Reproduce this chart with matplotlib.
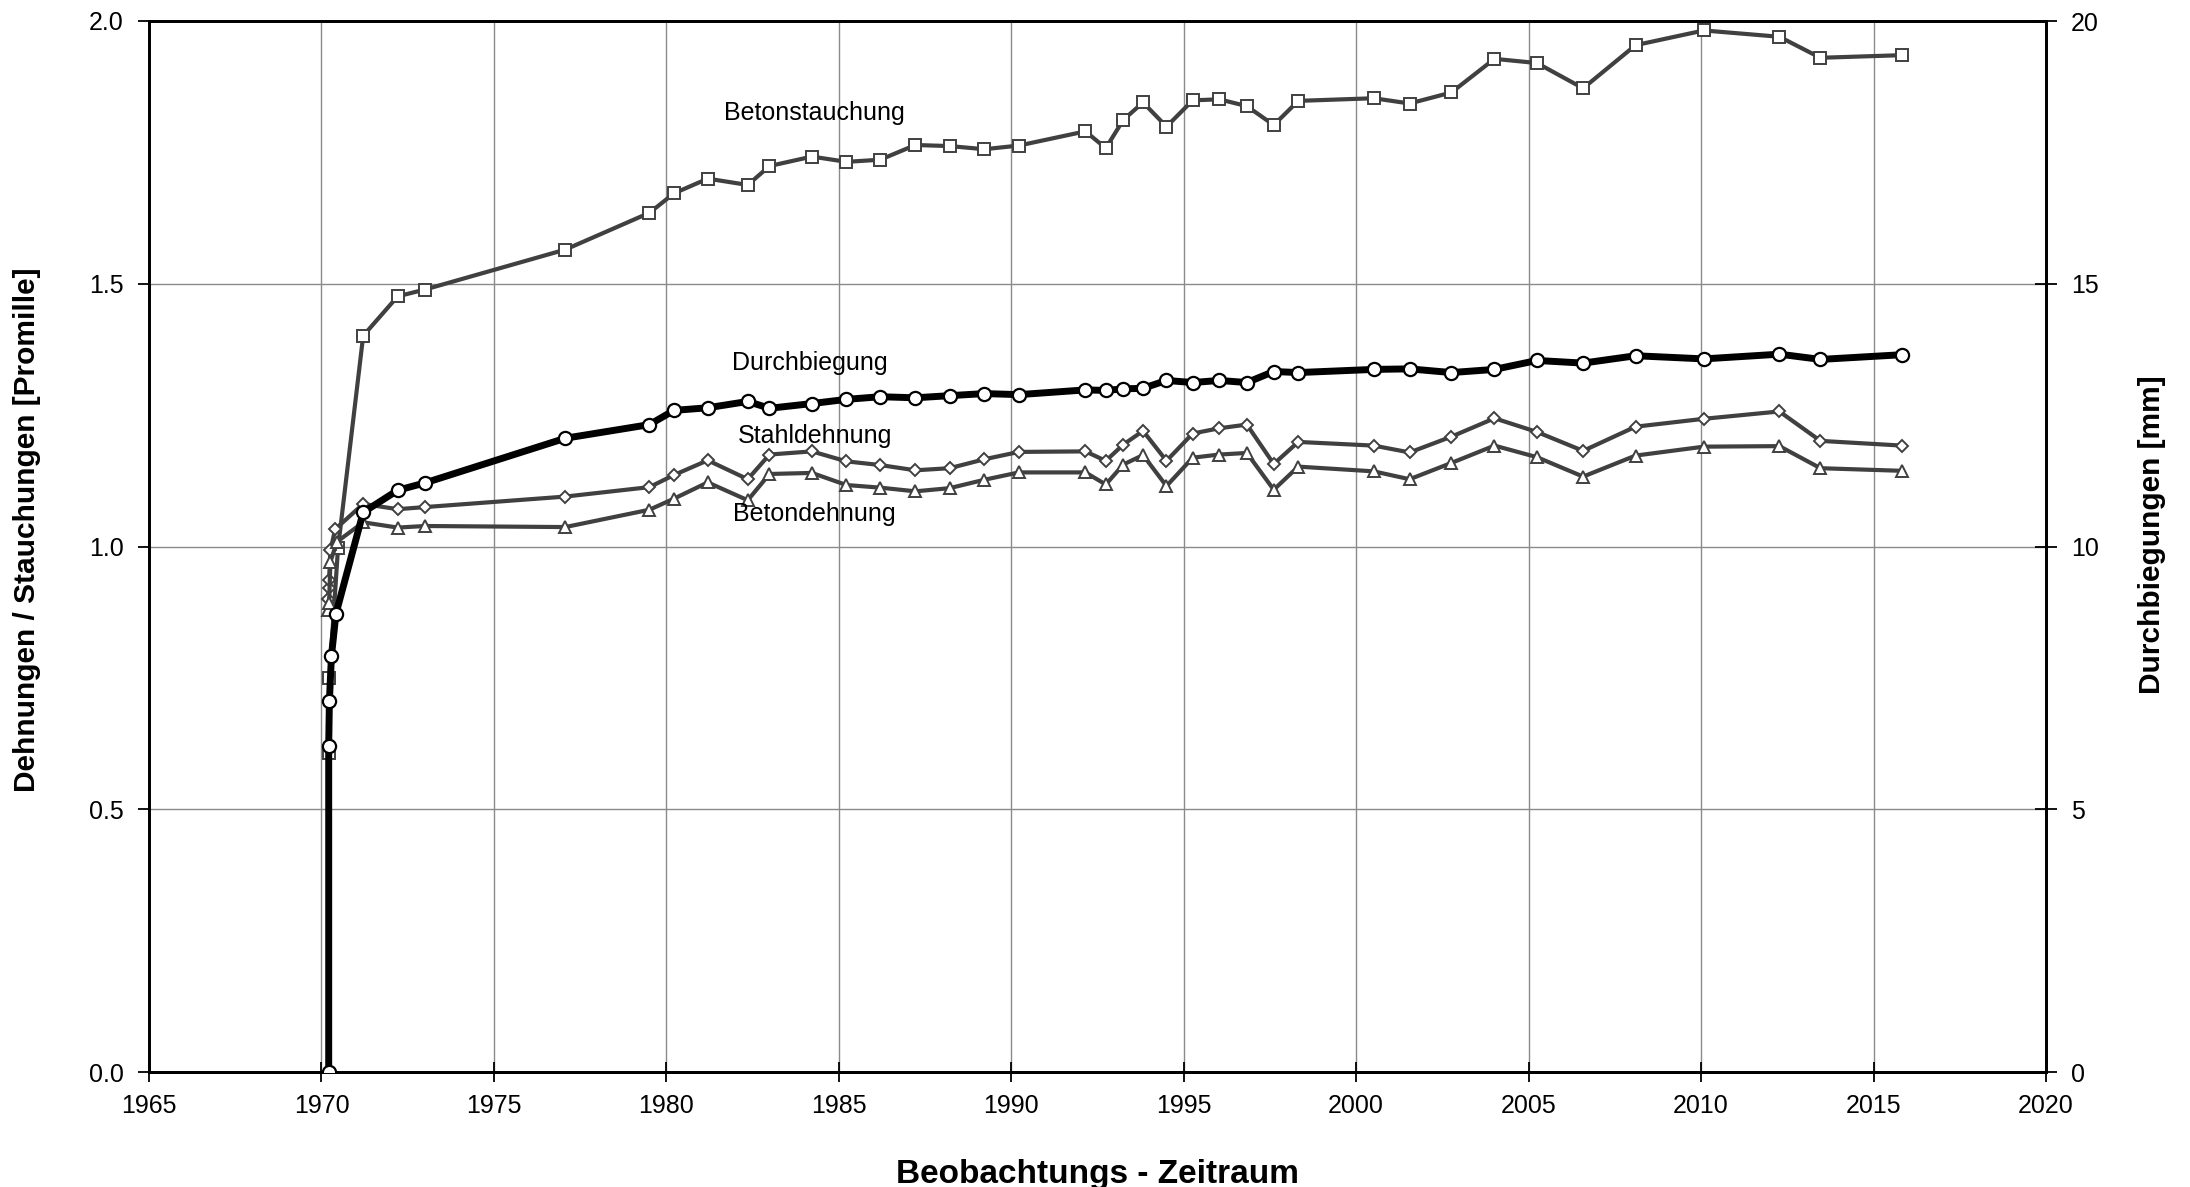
import matplotlib
matplotlib.use("Agg")
import matplotlib.pyplot as plt

plt.rcParams['font.family'] = ['Liberation Sans', 'DejaVu Sans']

# ---- data ----
years = [1971.21, 1972.21, 1973.00, 1977.07, 1979.51, 1980.22, 1981.20, 1982.36, 1982.99,
         1984.22, 1985.22, 1986.20, 1987.22, 1988.21, 1989.22, 1990.22, 1992.15, 1992.74,
         1993.25, 1993.82, 1994.50, 1995.26, 1996.03, 1996.83, 1997.61, 1998.32, 2000.51,
         2001.55, 2002.76, 2004.01, 2005.24, 2006.58, 2008.10, 2010.08, 2012.27, 2013.46,
         2015.83]

betonstauchung = [1.401, 1.476, 1.489, 1.565, 1.635, 1.672, 1.700, 1.688, 1.724, 1.742,
                  1.732, 1.736, 1.764, 1.762, 1.756, 1.763, 1.790, 1.758, 1.812, 1.845,
                  1.799, 1.849, 1.851, 1.838, 1.802, 1.848, 1.853, 1.843, 1.864, 1.928,
                  1.920, 1.872, 1.954, 1.982, 1.970, 1.930, 1.935]
durchbiegung_mm = [10.65, 11.07, 11.21, 12.06, 12.32, 12.59, 12.64, 12.76, 12.63, 12.72,
                   12.80, 12.85, 12.83, 12.87, 12.91, 12.89, 12.98, 12.97, 13.00, 13.01,
                   13.16, 13.12, 13.16, 13.12, 13.33, 13.31, 13.37, 13.38, 13.31, 13.37,
                   13.54, 13.49, 13.63, 13.57, 13.66, 13.56, 13.65]
stahldehnung = [1.081, 1.071, 1.075, 1.095, 1.113, 1.136, 1.164, 1.128, 1.175, 1.181,
                1.162, 1.155, 1.145, 1.149, 1.166, 1.180, 1.181, 1.163, 1.194, 1.220,
                1.163, 1.215, 1.225, 1.232, 1.157, 1.199, 1.192, 1.179, 1.209, 1.244,
                1.218, 1.182, 1.228, 1.243, 1.257, 1.201, 1.192]
betondehnung = [1.046, 1.036, 1.039, 1.037, 1.070, 1.091, 1.122, 1.088, 1.138, 1.140,
                1.117, 1.112, 1.105, 1.111, 1.127, 1.141, 1.141, 1.118, 1.156, 1.174,
                1.115, 1.169, 1.175, 1.178, 1.108, 1.152, 1.143, 1.128, 1.159, 1.192,
                1.170, 1.133, 1.173, 1.190, 1.191, 1.149, 1.144]

# first readings (1970, loading phase)
bs_early_years = [1970.21, 1970.23, 1970.48]
bs_early = [0.607, 0.749, 0.997]
db_early_years = [1970.21, 1970.21, 1970.23, 1970.29, 1970.42]
db_early_mm = [0.0, 6.21, 7.06, 7.92, 8.72]
sd_early_years = [1970.20, 1970.21, 1970.22, 1970.26, 1970.40]
sd_early = [0.901, 0.921, 0.936, 0.993, 1.033]
bd_early_years = [1970.20, 1970.22, 1970.26, 1970.45]
bd_early = [0.879, 0.892, 0.971, 1.009]

x_ticks = [1965, 1970, 1975, 1980, 1985, 1990, 1995, 2000, 2005, 2010, 2015, 2020]
y_ticks = [0.0, 0.5, 1.0, 1.5, 2.0]
y2_ticks = [0, 5, 10, 15, 20]

labels = ["Betonstauchung", "Durchbiegung", "Stahldehnung", "Betondehnung"]
label_pos = [(1984.3, 1.824), (1984.15, 1.349), (1984.3, 1.210), (1984.3, 1.062)]

# ---- figure ----
W, H = 2190, 1187
fig = plt.figure(figsize=(W / 100, H / 100), dpi=100)
L, R, T, B = 149, 2046, 21, 1072
ax = fig.add_axes([L / W, (H - B) / H, (R - L) / W, (B - T) / H])

gray = '#404040'
ax.plot(bs_early_years + years, bs_early + betonstauchung, color=gray, lw=3.0,
        marker='s', ms=8.5, mfc='white', mec=gray, mew=1.4, zorder=3)
ax.plot(sd_early_years + years, sd_early + stahldehnung, color=gray, lw=3.0,
        marker='D', ms=6.5, mfc='white', mec=gray, mew=1.4, zorder=3)
ax.plot(bd_early_years + years, bd_early + betondehnung, color=gray, lw=3.0,
        marker='^', ms=8.5, mfc='white', mec=gray, mew=1.4, zorder=3)

ax.set_xlim(1965, 2020)
ax.set_ylim(0, 2.0)
ax.set_xticks(x_ticks)
ax.set_yticks(y_ticks)
ax.set_yticklabels([f"{v:.1f}" for v in y_ticks])
ax.grid(True, color='#8a8a8a', lw=1.0, zorder=0)
ax.set_axisbelow(True)
for s in ax.spines.values():
    s.set_linewidth(2.0)
    s.set_color('black')
ax.tick_params(axis='x', direction='inout', length=14, width=1.3, labelsize=18, pad=9)
ax.tick_params(axis='y', direction='out', length=8, width=1.3, labelsize=18, pad=10)

ax2 = ax.twinx()
ax2.plot(db_early_years + years, db_early_mm + durchbiegung_mm, color='black', lw=5,
         marker='o', ms=9.5, mfc='white', mec='black', mew=1.6, zorder=4)
ax2.set_ylim(0, 20)
ax2.set_yticks(y2_ticks)
ax2.tick_params(axis='y', direction='inout', length=16, width=1.3, labelsize=18, pad=10)
for s in ax2.spines.values():
    s.set_linewidth(2.0)

for txt, (xx, yy) in zip(labels, label_pos):
    ax.text(xx, yy, txt, fontsize=18, ha='center', va='center', zorder=5)

fig.text((L + R) / 2 / W, 1 - 1174 / H, "Beobachtungs - Zeitraum", fontsize=24,
         fontweight='bold', ha='center', va='center')
fig.text(27 / W, 1 - 530 / H, "Dehnungen / Stauchungen [Promille]", fontsize=21.5,
         fontweight='bold', ha='center', va='center', rotation=90)
fig.text(2152 / W, 1 - 535 / H, "Durchbiegungen [mm]", fontsize=21.5,
         fontweight='bold', ha='center', va='center', rotation=90)

fig.savefig("out.png", dpi=100)
